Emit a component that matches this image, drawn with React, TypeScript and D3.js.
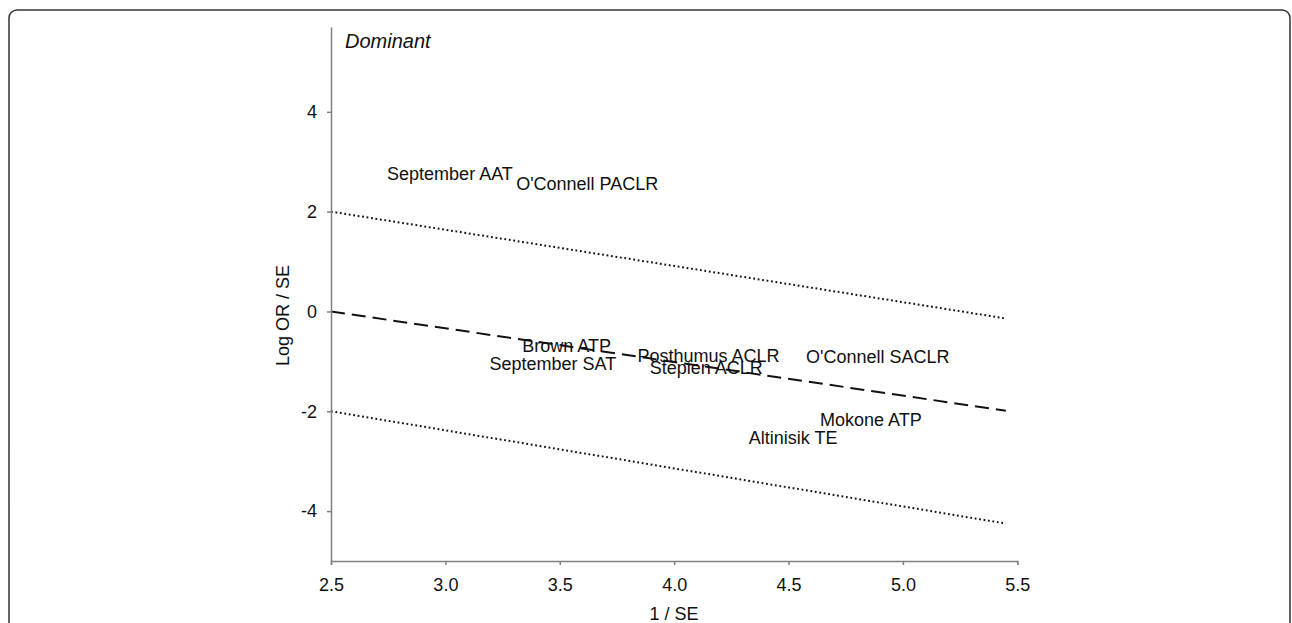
import React, { useEffect, useRef } from 'react';
import * as d3 from 'd3';

// study labels, placed at (1/SE, logOR/SE)
const studyNames = [
  'September AAT',
  "O'Connell PACLR",
  'Brown ATP',
  'September SAT',
  'Posthumus ACLR',
  'Stepien ACLR',
  "O'Connell SACLR",
  'Mokone ATP',
  'Altinisik TE',
];
const invSE = [3.02, 3.62, 3.53, 3.47, 4.15, 4.14, 4.89, 4.86, 4.52];
const zScores = [2.76, 2.56, -0.69, -1.05, -0.88, -1.13, -0.9, -2.16, -2.53];

// regression line and +/-2 bounds (start / end points)
const lineX = [2.5, 5.45];
const fitLine = [0, -1.99];
const upperBound = [2, -0.14];
const lowerBound = [-2, -4.25];

const xTicks = [2.5, 3.0, 3.5, 4.0, 4.5, 5.0, 5.5];
const yTicks = [-4, -2, 0, 2, 4];

const WIDTH = 1292;
const HEIGHT = 623;
const FONT = 'Arial, "Liberation Sans", sans-serif';

export default function App() {
  const xAxisRef = useRef<SVGGElement>(null);
  const yAxisRef = useRef<SVGGElement>(null);

  const x = d3.scaleLinear().domain([2.5, 5.5]).range([331, 1017.3]);
  const y = d3.scaleLinear().domain([-5, 5.7]).range([561, 27]);

  useEffect(() => {
    const xAxis = d3.axisBottom(x)
      .tickValues(xTicks)
      .tickFormat((d) => (+d).toFixed(1))
      .tickSize(4)
      .tickPadding(13);
    // plain hyphen for negatives, like the original
    const yAxis = d3.axisLeft(y)
      .tickValues(yTicks)
      .tickFormat((d) => String(d))
      .tickSizeInner(4)
      .tickSizeOuter(0)
      .tickPadding(10);

    const gx = d3.select(xAxisRef.current).call(xAxis);
    const gy = d3.select(yAxisRef.current).call(yAxis);

    [gx, gy].forEach((g) => {
      g.attr('font-family', FONT).attr('font-size', 18);
      g.select('.domain').attr('stroke', '#808080').attr('stroke-width', 1.5);
      g.selectAll('.tick line').attr('stroke', '#808080').attr('stroke-width', 1.5);
      g.selectAll('.tick text').attr('fill', '#111');
    });
  });

  const line = d3.line<[number, number]>()
    .x((d) => x(d[0]))
    .y((d) => y(d[1]));

  const pts = (vals: number[]) => lineX.map((v, i) => [v, vals[i]] as [number, number]);

  return (
    <svg
      width={WIDTH}
      height={HEIGHT}
      style={{ position: 'absolute', left: 0, top: 0, background: '#fff' }}
      fontFamily={FONT}
    >
      <rect x={9} y={10} width={1281} height={700} rx={8} ry={8}
        fill="none" stroke="#333" strokeWidth={1.5} />

      <path d={line(pts(upperBound)) || ''} fill="none" stroke="#111"
        strokeWidth={2} strokeDasharray="1.8,2.7" />
      <path d={line(pts(fitLine)) || ''} fill="none" stroke="#111"
        strokeWidth={2} strokeDasharray="14,7" />
      <path d={line(pts(lowerBound)) || ''} fill="none" stroke="#111"
        strokeWidth={2} strokeDasharray="1.8,2.7" />

      <g ref={xAxisRef} transform={`translate(0,${y(-5)})`} />
      <g ref={yAxisRef} transform={`translate(${x(2.5)},0)`} />

      {studyNames.map((name, i) => (
        <text key={name} x={x(invSE[i])} y={y(zScores[i])} dy="0.36em"
          textAnchor="middle" fontSize={18} fill="#111">
          {name}
        </text>
      ))}

      <text x={345} y={48} fontSize={20} fontStyle="italic" fill="#111">Dominant</text>

      <text x={674} y={620} textAnchor="middle" fontSize={18} fill="#111">1 / SE</text>
      <text transform={`translate(289,${y(0) + 4}) rotate(-90)`} textAnchor="middle"
        fontSize={18} fill="#111">Log OR / SE</text>
    </svg>
  );
}
